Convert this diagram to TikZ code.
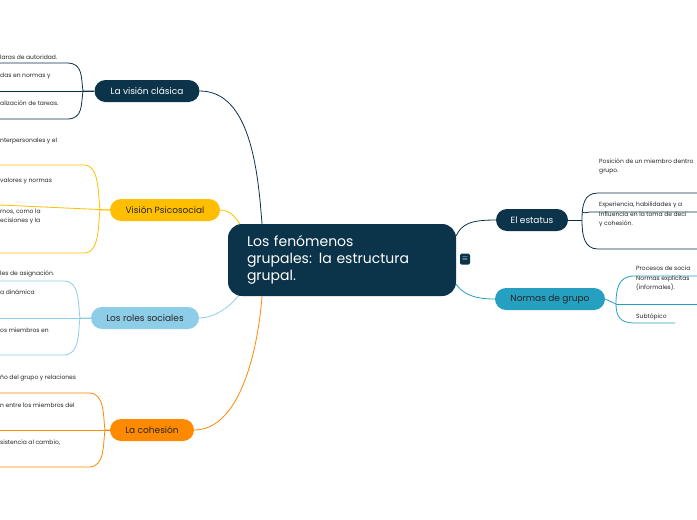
\documentclass[tikz,border=0pt]{standalone}
\usepackage{fontspec}
\setmainfont{Poppins}
\begin{document}
\begin{tikzpicture}[x=1pt,y=-1pt,
  br/.style={rounded corners=11pt,minimum height=22pt,font=\fontsize{9}{10}\selectfont,inner xsep=10pt},
  sub/.style={anchor=base west,inner sep=0pt,font=\fontsize{6}{8.5}\selectfont,text=black!85,align=left},
  ln/.style={line width=0.8pt}]
\definecolor{navy}{HTML}{0B3349}
\definecolor{yel}{HTML}{FFBF00}
\definecolor{lb}{HTML}{8ECDE8}
\definecolor{ora}{HTML}{FF8A00}
\definecolor{teal}{HTML}{25A0C0}
\useasboundingbox (0,0) rectangle (697,520);
\fill[white] (0,0) rectangle (697,520);
% central
\node[fill=navy,rounded corners=14pt,minimum width=228pt,minimum height=72pt,text=white,
  font=\fontsize{14}{17}\selectfont,align=left,text width=190pt] (c) at (342,260)
  {Los fenómenos\\grupales: la estructura\\grupal.};
\node[fill=navy,rounded corners=1.5pt,minimum width=10pt,minimum height=11pt,inner sep=0pt,text=white,font=\fontsize{7}{7}\selectfont] (ic) at (465,259) {$\equiv$};
% branches
\node[br,fill=navy,text=white,minimum width=105pt] (a) at (147,91) {La visión clásica};
\node[br,fill=yel,text=black!85,minimum width=110pt] (b) at (165,210) {Visión Psicosocial};
\node[br,fill=lb,text=black!85,minimum width=108pt] (r) at (145,318) {Los roles sociales};
\node[br,fill=ora,text=black!85,minimum width=84pt] (h) at (152,430) {La cohesión};
\node[br,fill=navy,text=white,minimum width=72pt] (e) at (532,220) {El estatus};
\node[br,fill=teal,text=black!85,minimum width=110pt] (n) at (550,299) {Normas de grupo};
% central connectors
\draw[ln,navy] (a.east) .. controls (250,91) and (258,170) .. (262,224);
\draw[ln,yel] (b.east) .. controls (230,210) and (236,218) .. (240,224);
\draw[ln,lb] (r.east) .. controls (215,318) and (232,305) .. (238,296);
\draw[ln,ora] (h.east) .. controls (240,430) and (258,350) .. (262,296);
\draw[ln,navy] (e.west) .. controls (470,220) and (462,224) .. (456,236);
\draw[ln,teal] (n.west) .. controls (470,299) and (462,292) .. (456,284);
% left brackets
\foreach \node/\col/\xb/\ya/\yb/\yc/\yy in {a/navy/83/63/91/119/91, b/yel/100/165/205/253/210, r/lb/80/281/318/355/318, h/ora/105/393/430/467/430}{
  \draw[ln,\col] (0,\ya) -- (\xb-16,\ya) .. controls (\xb,\ya) and (\xb-2,\yy-14) .. (\xb,\yy) -- (\node.west);
  \draw[ln,\col] (0,\yc) -- (\xb-16,\yc) .. controls (\xb,\yc) and (\xb-2,\yy+14) .. (\xb,\yy);
  \draw[ln,\col] (0,\yb) -- (\node.west);
}
\node[sub] (a1) at (0,59) {laras de autoridad.};
\node[sub] (a2) at (0,77) {das en normas y};
\node[sub] (a3) at (0,105) {alización de tareas.};
\node[sub] (b1) at (0,142) {nterpersonales y el};
\node[sub] (b2) at (0,182) {valores y normas};
\node[sub] (b3) at (0,222) {rnos, como la\\ecisiones y la};
\node[sub] (r1) at (0,275) {les de asignación.};
\node[sub] (r2) at (0,294) {a dinámica};
\node[sub] (r3) at (0,332) {os miembros en};
\node[sub] (h1) at (0,379) {ño del grupo y relaciones};
\node[sub] (h2) at (0,407) {n entre los miembros del};
\node[sub] (h3) at (0,444) {sistencia al cambio,};
% right brackets
\draw[ln,navy] (e.east) -- (582,220);
\draw[ln,navy] (697,193) -- (598,193) .. controls (584,193) and (582,205) .. (582,220) .. controls (582,235) and (584,249) .. (598,249) -- (697,249);
\draw[ln,navy] (582,212) .. controls (584,213) .. (590,212) -- (697,212);
\draw[ln,teal] (n.east) -- (616,304);
\draw[ln,teal] (697,276) -- (634,276) .. controls (618,276) and (616,290) .. (616,304) .. controls (616,316) and (620,323) .. (634,323) -- (675,323);
\draw[ln,teal] (616,304) -- (697,304);
\node[sub] (e1) at (599,172) {Posición de un miembro dentro\\grupo.};
\node[sub] (e2) at (599,206) {Experiencia, habilidades y a};
\node[sub] (e3) at (599,225) {Influencia en la toma de deci\\y cohesión.};
\node[sub] (n1) at (636,270) {Procesos de socia};
\node[sub] (n2) at (636,289) {Normas explícitas\\(informales).};
\node[sub] (n3) at (636,318) {Subtópico};
\end{tikzpicture}
\end{document}
